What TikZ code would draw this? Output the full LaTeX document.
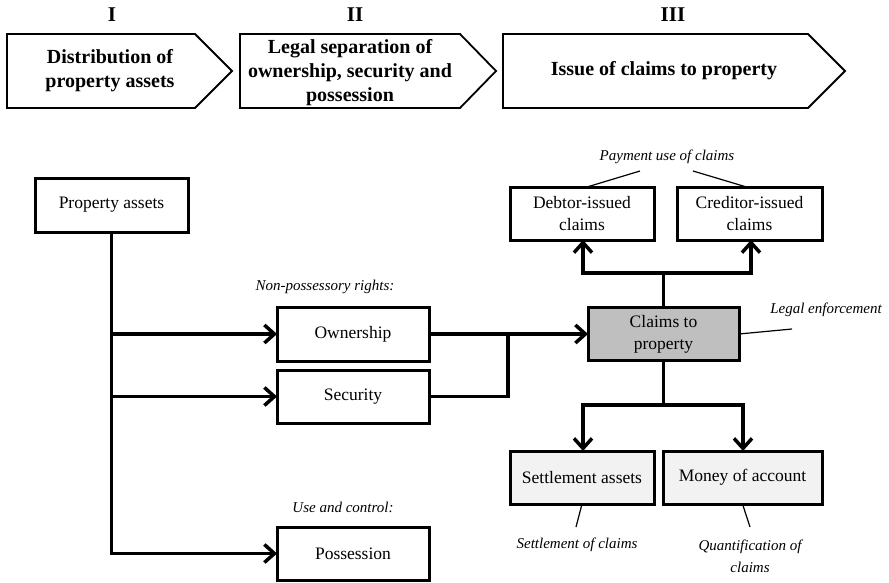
\documentclass[tikz,border=0pt]{standalone}
\usepackage{fontspec}
\setmainfont{Liberation Serif}
\usetikzlibrary{arrows.meta,calc}
\definecolor{claimgray}{HTML}{BFBFBF}
\definecolor{lightfill}{HTML}{F2F2F2}
\tikzset{
  box/.style={draw,line width=3pt,inner sep=0pt,outer sep=0pt,align=center,
    font=\fontsize{17.5}{22}\selectfont},
  conn/.style={line width=3.5pt},
  arr/.style={conn,-{Straight Barb[length=10pt,width=18pt]}},
  note/.style={font=\fontsize{15}{22}\selectfont\itshape,align=center,inner sep=0pt},
  noteline/.style={line width=1.2pt},
  chev/.style={draw,line width=1.8pt,line join=miter},
  chevtext/.style={font=\fontsize{20}{24}\selectfont\bfseries,align=center,inner sep=0pt},
  roman/.style={font=\fontsize{21}{24}\selectfont\bfseries,inner sep=0pt}
}
\begin{document}
\begin{tikzpicture}[x=1pt,y=-1pt]
\useasboundingbox (0,0) rectangle (889,583);
% phase chevrons
\draw[chev] (7,34) -- (195,34) -- (232,71) -- (195,108) -- (7,108) -- cycle;
\draw[chev] (240,34) -- (460,34) -- (496,71) -- (460,108) -- (240,108) -- cycle;
\draw[chev] (503,34) -- (808,34) -- (845,71) -- (808,108) -- (503,108) -- cycle;
\node[roman] (r1) at (112,15) {I};
\node[roman] (r2) at (355,15) {II};
\node[roman] (r3) at (673,15) {III};
\node[chevtext] (c1) at (110,71) {Distribution of\\property assets};
\node[chevtext] (c2) at (350,73) {Legal separation of\\ownership, security and\\possession};
\node[chevtext] (c3) at (664,71) {Issue of claims to property};
% boxes
\node[box,minimum width=153pt,minimum height=54pt] (prop) at (111.5,205) {Property assets};
\node[box,minimum width=152pt,minimum height=54pt] (own) at (353,334) {Ownership};
\node[box,minimum width=152pt,minimum height=53pt] (sec) at (353,396.5) {Security};
\node[box,minimum width=152pt,minimum height=53pt] (poss) at (353,553.5) {Possession};
\node[box,fill=claimgray,minimum width=151pt,minimum height=53pt] (claims) at (663.5,334) {Claims to\\property};
\node[box,minimum width=144pt,minimum height=53pt] (debtor) at (582,213.5) {Debtor-issued\\claims};
\node[box,minimum width=145pt,minimum height=53pt] (creditor) at (749.5,213.5) {Creditor-issued\\claims};
\node[box,fill=lightfill,minimum width=144pt,minimum height=53pt] (settle) at (582,477.5) {Settlement assets};
\node[box,fill=lightfill,minimum width=159pt,minimum height=53pt] (money) at (742.5,477.5) {Money of account};
% notes
\node[note] (nonposs) at (325,287) {Non-possessory rights:};
\node[note] (usec) at (343,507) {Use and control:};
\node[note] (pay) at (667,157) {Payment use of claims};
\node[note] (legal) at (826,310) {Legal enforcement};
\node[note] (setc) at (577,545) {Settlement of claims};
\node[note] (quant) at (750,556) {Quantification of\\claims};
% connectors from property assets
\draw[arr] (prop.south) |- (poss.west);
\draw[arr] (prop.south |- own.west) -- (own.west);
\draw[arr] (prop.south |- sec.west) -- (sec.west);
% to claims
\coordinate (join) at (508,334);
\draw[arr] (own.east) -- (claims.west);
\draw[conn] (sec.east) -| (join);
% up to issued claims
\coordinate (tu) at (663.5,273);
\draw[conn] (claims.north) -- (tu);
\draw[arr] (tu) -| ([xshift=1pt]debtor.south);
\draw[arr] (tu) -| ([xshift=1.5pt]creditor.south);
\draw[conn,line cap=rect] ([xshift=1pt]debtor.south |- tu) -- ([xshift=1.5pt]creditor.south |- tu);
% down to settlement
\coordinate (td) at (663.5,405);
\draw[conn] (claims.south) -- (td);
\draw[arr] (td) -| ([xshift=1pt]settle.north);
\draw[arr] (td) -| ([xshift=0.5pt]money.north);
\draw[conn,line cap=rect] ([xshift=1pt]settle.north |- td) -- ([xshift=0.5pt]money.north |- td);
% annotation lines
\coordinate (payl) at (640,171);
\coordinate (payr) at (693,171);
\coordinate (legl) at (792,329);
\coordinate (setl) at (576,527);
\coordinate (quantl) at (750,527);
\draw[noteline] (payl) -- ([xshift=5pt]debtor.north);
\draw[noteline] (payr) -- ([xshift=-3pt]creditor.north);
\draw[noteline] (claims.east) -- (legl);
\draw[noteline] (settle.south) -- (setl);
\draw[noteline] (money.south) -- (quantl);
\end{tikzpicture}
\end{document}
